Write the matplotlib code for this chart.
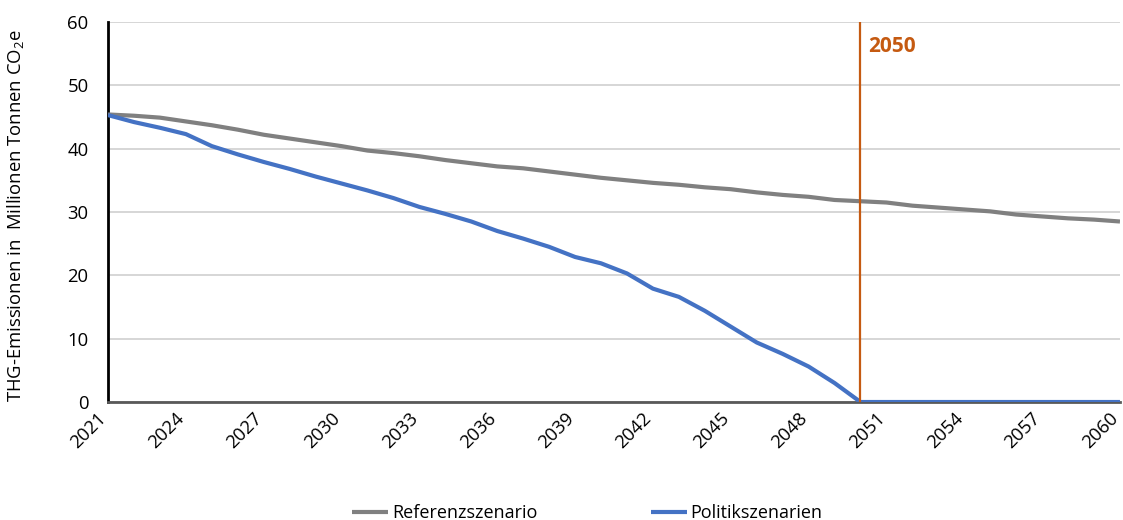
import matplotlib
matplotlib.use("Agg")
import matplotlib.pyplot as plt
from matplotlib.transforms import ScaledTranslation

plt.rcParams['font.family'] = ['Open Sans', 'DejaVu Sans']
plt.rcParams['mathtext.fontset'] = 'custom'
plt.rcParams['mathtext.rm'] = 'Open Sans'
plt.rcParams['mathtext.default'] = 'regular'

years = list(range(2021, 2061))

referenz = [45.4, 45.2, 44.9, 44.3, 43.7, 43.0, 42.2, 41.6, 41.0, 40.4,
            39.7, 39.3, 38.8, 38.2, 37.7, 37.2, 36.9, 36.4, 35.9, 35.4,
            35.0, 34.6, 34.3, 33.9, 33.6, 33.1, 32.7, 32.4, 31.9, 31.7,
            31.5, 31.0, 30.7, 30.4, 30.1, 29.6, 29.3, 29.0, 28.8, 28.5]

politik = [45.3, 44.2, 43.3, 42.3, 40.4, 39.1, 37.9, 36.8, 35.6, 34.5,
           33.4, 32.2, 30.8, 29.7, 28.5, 27.0, 25.8, 24.5, 22.9, 21.9,
           20.3, 17.9, 16.6, 14.4, 11.9, 9.4, 7.6, 5.6, 3.0, 0.0,
           0.0, 0.0, 0.0, 0.0, 0.0, 0.0, 0.0, 0.0, 0.0, 0.0]

target_year = 2050
xtick_years = years[::3]
yticks = [0, 10, 20, 30, 40, 50, 60]

fig = plt.figure(figsize=(11.23, 5.2), dpi=100)
ax = fig.add_axes([0.0962, 0.2269, 0.9011, 0.7308])

ax.plot(years, referenz, color='#808080', lw=3.0, label='Referenzszenario',
        solid_capstyle='butt', zorder=3)
ax.plot(years, politik, color='#4472C4', lw=3.0, label='Politikszenarien',
        solid_capstyle='butt', zorder=4)
ax.axvline(target_year, color='#C55A11', lw=1.6, zorder=5)
ax.text(target_year + 0.3, 56.2, str(target_year), color='#C55A11',
        fontsize=15, fontweight='bold', va='center', ha='left')

ax.set_xlim(years[0], years[-1])
ax.set_ylim(0, 60)
ax.set_yticks(yticks)
ax.set_xticks(xtick_years)
ax.set_xticklabels([str(y) for y in xtick_years], rotation=45, ha='right',
                   va='center', rotation_mode='anchor')
ax.tick_params(axis='both', length=0, labelsize=13.3, colors='#000000')
ax.tick_params(axis='y', pad=14)
ax.tick_params(axis='x', pad=10)

# nudge the rotated year labels a little to the left
shift = ScaledTranslation(-3 / 72, 0, fig.dpi_scale_trans)
for lbl in ax.get_xticklabels():
    lbl.set_transform(lbl.get_transform() + shift)

ax.grid(axis='y', color='#d0d0d0', lw=1.2, zorder=0)
ax.set_axisbelow(True)

for side in ('top', 'right'):
    ax.spines[side].set_visible(False)
ax.spines['left'].set_color('#000000')
ax.spines['left'].set_linewidth(2.0)
ax.spines['bottom'].set_color('#595959')
ax.spines['bottom'].set_linewidth(2.0)

ax.set_ylabel('THG-Emissionen in  Millionen Tonnen CO$_2$e', fontsize=13.3)
ax.yaxis.set_label_coords(-0.081, 0.49)

fig.legend(loc='lower center', bbox_to_anchor=(0.523, -0.035), ncol=2,
           frameon=False, fontsize=13, handlelength=2.0, handletextpad=0.2,
           columnspacing=6.3)

fig.savefig('out.png', dpi=100)
